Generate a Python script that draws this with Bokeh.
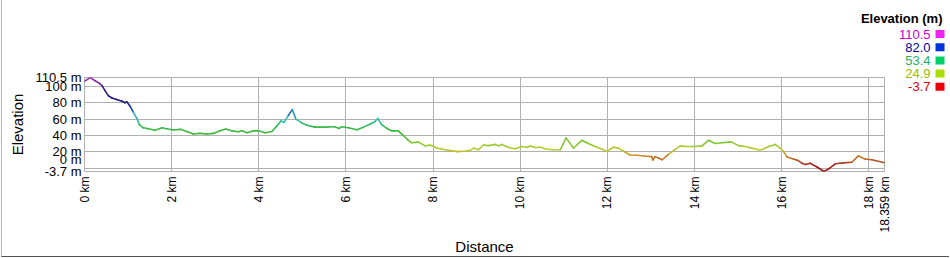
from bokeh.plotting import figure
from bokeh.models import Range1d, FixedTicker, CustomJSTickFormatter
from bokeh.embed import file_html
from bokeh.resources import INLINE
from bokeh.core.properties import value
import math

# ---- data ----
distance_km = [0.00, 0.13, 0.245, 0.345, 0.40, 0.475, 0.55, 0.63, 0.74, 0.86, 0.93, 0.97,
               1.05, 1.12, 1.20, 1.26, 1.35, 1.47, 1.62, 1.78, 1.89, 2.04, 2.20, 2.35, 2.50,
               2.65, 2.81, 2.96, 3.11, 3.24, 3.38, 3.53, 3.61, 3.73, 3.88, 3.99, 4.15, 4.30,
               4.41, 4.51, 4.58, 4.68, 4.77, 4.85, 4.97, 5.10, 5.29, 5.52, 5.75, 5.84, 5.90,
               6.06, 6.25, 6.40, 6.56, 6.67, 6.73, 6.82, 6.94, 7.05, 7.20, 7.32, 7.43, 7.51,
               7.66, 7.82, 7.93, 8.09, 8.28, 8.39, 8.54, 8.74, 8.85, 8.93, 9.04, 9.16, 9.27,
               9.42, 9.50, 9.58, 9.73, 9.88, 10.04, 10.15, 10.23, 10.34, 10.46, 10.57, 10.73,
               10.92, 11.05, 11.22, 11.41, 11.56, 11.72, 11.87, 11.99, 12.14, 12.25, 12.37,
               12.52, 12.68, 12.83, 13.02, 13.04, 13.10, 13.17, 13.26, 13.40, 13.55, 13.67,
               13.82, 14.01, 14.17, 14.32, 14.47, 14.63, 14.84, 15.01, 15.16, 15.31, 15.47,
               15.54, 15.70, 15.85, 15.96, 16.04, 16.12, 16.27, 16.38, 16.46, 16.55, 16.65,
               16.81, 16.97, 17.07, 17.23, 17.42, 17.61, 17.76, 17.91, 18.07, 18.359]
elevation_m = [105.7, 110.5, 106.5, 103.4, 100.8, 94.3, 88.2, 85.6, 83.7, 81.7, 79.9, 81.0,
               75.3, 68.5, 60.8, 53.2, 49.4, 48.3, 46.3, 49.4, 48.3, 46.8, 47.5, 44.9, 41.8,
               42.6, 41.8, 42.6, 45.7, 47.9, 45.7, 44.5, 45.7, 43.4, 45.7, 45.7, 43.4, 44.9,
               51.4, 57.8, 55.9, 64.6, 71.5, 60.0, 55.9, 52.5, 50.2, 50.2, 50.6, 48.6, 50.6,
               49.4, 47.1, 50.2, 54.0, 57.1, 60.8, 53.2, 48.6, 45.7, 45.7, 40.0, 34.2, 31.2,
               32.0, 27.4, 28.5, 24.7, 22.8, 21.7, 20.5, 20.9, 22.0, 24.7, 22.8, 28.5, 27.7,
               29.2, 27.7, 29.2, 25.5, 24.0, 26.6, 25.5, 27.4, 25.5, 25.8, 24.0, 22.8,
               22.8, 37.2, 24.7, 34.2, 30.4, 26.6, 23.5, 20.9, 25.8, 24.7, 20.9,
               16.3, 16.0, 15.2, 14.4, 10.3, 14.4, 12.6, 10.6, 17.1, 22.8, 27.4,
               26.6, 26.6, 27.4, 34.2, 30.4, 31.2, 32.3, 27.7, 26.6, 24.7, 22.8,
               22.8, 26.6, 29.2, 24.7, 20.9, 14.0, 11.4, 9.5, 6.4, 4.9, 6.4,
               1.8, -3.7, -0.8, 5.7, 6.8, 7.5, 15.2, 11.4, 10.6, 7.0]

y_ticks = [-3.7, 0, 20, 40, 60, 80, 100, 110.5]
x_ticks = [0, 2, 4, 6, 8, 10, 12, 14, 16, 18, 18.359]
legend_title = "Elevation (m)"
legend_labels = ["110.5", "82.0", "53.4", "24.9", "-3.7"]
legend_text_colors = ["#cc00cc", "#000099", "#22b060", "#99bb00", "#cc0000"]
legend_box_colors = ["#ee22ee", "#0033dd", "#00d066", "#aadd00", "#ee0000"]

# ---- colour scale for the line ----
stops = [(-3.7, (150, 15, 15)), (3, (165, 30, 25)), (10, (185, 90, 35)), (16, (205, 145, 45)),
         (23, (190, 205, 45)), (30, (140, 200, 50)), (38, (70, 185, 50)), (50, (55, 185, 70)),
         (57, (50, 190, 150)), (63, (60, 195, 205)), (70, (30, 80, 160)), (80, (25, 25, 120)),
         (95, (40, 25, 125)), (102, (100, 40, 150)), (110.5, (175, 55, 185))]


def color_for(e):
    if e <= stops[0][0]:
        c = stops[0][1]
    elif e >= stops[-1][0]:
        c = stops[-1][1]
    else:
        for (e0, c0), (e1, c1) in zip(stops[:-1], stops[1:]):
            if e0 <= e <= e1:
                t = (e - e0) / (e1 - e0)
                c = tuple(int(round(a + (b - a) * t)) for a, b in zip(c0, c1))
                break
    return "#%02x%02x%02x" % c


xs, ys, cols = [], [], []
for i in range(len(distance_km) - 1):
    xs.append([distance_km[i], distance_km[i + 1]])
    ys.append([elevation_m[i], elevation_m[i + 1]])
    cols.append(color_for((elevation_m[i] + elevation_m[i + 1]) / 2))

# ---- main chart ----
W, H = 948, 257
FONT = "Liberation Sans"

p = figure(width=W, height=H, x_range=Range1d(0, 18.359), y_range=Range1d(-3.7, 110.5),
           output_backend="svg", toolbar_location=None,
           min_border_left=82, min_border_right=66, min_border_top=77, min_border_bottom=80)
p.styles = {"margin-left": "1px", "border-left": "1px solid #b8b8b8",
            "border-bottom": "1px solid #555555"}
p.background_fill_color = "white"
p.border_fill_color = "white"
p.outline_line_color = "#b0b0b0"
p.outline_line_width = 1

p.multi_line(xs, ys, line_color=cols, line_width=1.6, line_cap="round", line_join="round")

p.yaxis.ticker = FixedTicker(ticks=y_ticks)
p.yaxis.formatter = CustomJSTickFormatter(
    code="return tick == 0 ? '0 m\\n ' : tick + ' m';")
p.xaxis.ticker = FixedTicker(ticks=x_ticks)
p.xaxis.formatter = CustomJSTickFormatter(code="return tick + ' km';")
p.xaxis.major_label_orientation = math.pi / 2
for ax in (p.xaxis[0], p.yaxis[0]):
    ax.axis_line_color = None
    ax.major_tick_line_color = None
    ax.minor_tick_line_color = None
    ax.major_tick_out = 0
    ax.major_tick_in = 0
    ax.major_label_text_font = FONT
    ax.major_label_text_color = "black"
    ax.axis_label_text_font = FONT
    ax.axis_label_text_font_size = "15px"
    ax.axis_label_text_font_style = "normal"
    ax.axis_label_text_color = "black"
p.yaxis.major_label_text_font_size = "13px"
p.yaxis.major_label_standoff = 3
p.yaxis.axis_label = "Elevation"
p.yaxis.axis_label_standoff = 6
p.xaxis.major_label_text_font_size = "12px"
p.xaxis.major_label_standoff = 5
p.xaxis.axis_label = "Distance"
p.xaxis.axis_label_standoff = 2

p.xgrid.ticker = FixedTicker(ticks=x_ticks)
p.ygrid.ticker = FixedTicker(ticks=y_ticks)
p.xgrid.grid_line_color = "#b0b0b0"
p.ygrid.grid_line_color = "#b0b0b0"

# ---- colour legend: separate root, transparent, placed over the top-right corner ----
LW, LH = 90, 95
lg = figure(width=LW, height=LH, x_range=Range1d(0, LW), y_range=Range1d(LH, 0),
            output_backend="svg", toolbar_location=None, x_axis_type=None, y_axis_type=None,
            title=None, min_border_left=0, min_border_right=0, min_border_top=0,
            min_border_bottom=0)
lg.styles = {"position": "absolute", "left": "858px", "top": "0px"}
lg.background_fill_color = None
lg.border_fill_color = None
lg.outline_line_color = None
lg.grid.visible = False

row_y = [33.5, 46.7, 59.9, 73.1, 86.3]
lg.text(x=[84], y=[18], text=[legend_title], text_font=value(FONT), text_font_size="13px",
        text_font_style="bold", text_align="right", text_baseline="middle", text_color="black")
lg.text(x=[72] * len(legend_labels), y=row_y, text=legend_labels, text_font=value(FONT),
        text_font_size="13px", text_align="right", text_baseline="middle",
        text_color=legend_text_colors)
lg.rect(x=[81.5] * len(legend_labels), y=row_y, width=9, height=8,
        fill_color=legend_box_colors, line_color=None)

open("out.html", "w").write(file_html([p, lg], INLINE))
